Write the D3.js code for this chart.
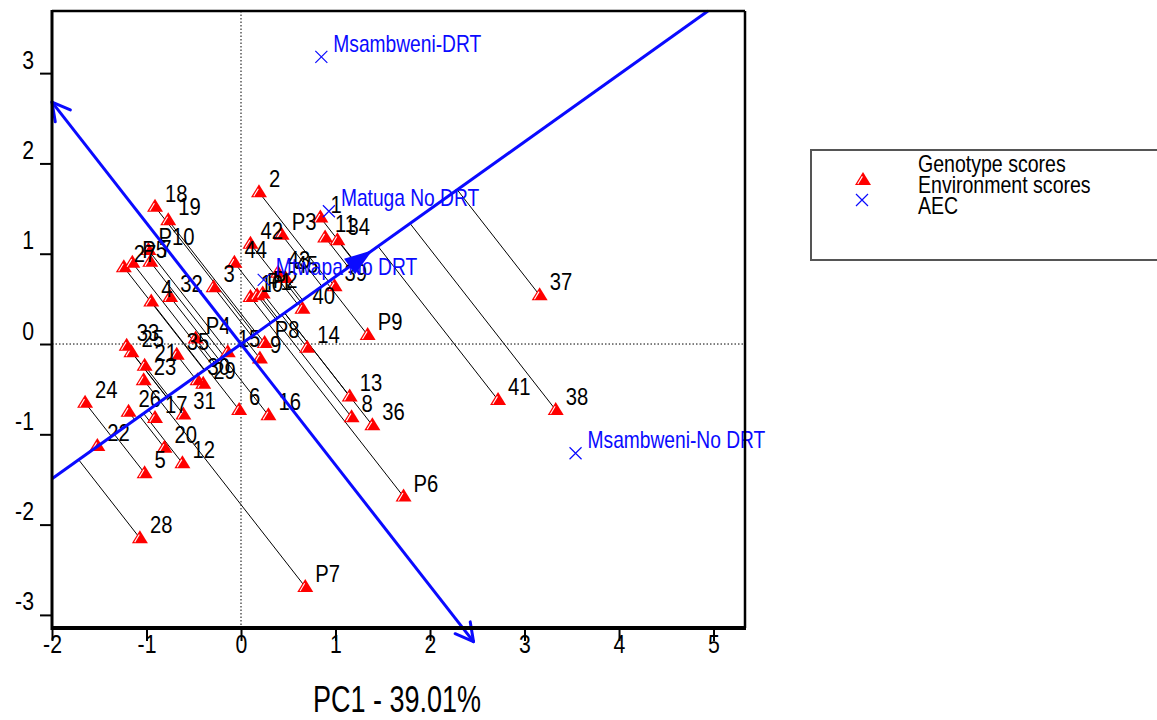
<!DOCTYPE html>
<html>
<head>
<meta charset="utf-8">
<script src="https://cdn.jsdelivr.net/npm/d3@7"></script>
<style>
  html, body { margin: 0; padding: 0; background: #fff; }
  svg { display: block; }
  text { font-family: "Liberation Sans", Arial, Helvetica, sans-serif; }
</style>
</head>
<body>
<svg id="chart" width="1157" height="720"></svg>
<script>
// ---------------- data ----------------
const genoLabels = ["1","2","3","4","5","6","7","8","9","10",
  "11","12","13","14","15","16","17","18","19","20",
  "21","22","23","24","25","26","27","28","29","30",
  "31","32","33","34","35","36","37","38","39","40",
  "41","42","43","44","45",
  "P1","P2","P3","P4","P5","P6","P7","P8","P9","P10"];
const genoX = [0.84, 0.19, -0.29, -0.95, -1.02, -0.02, -0.96, 1.17, 0.20, 0.10,
  0.89, -0.62, 1.15, 0.70, -0.14, 0.29, -0.91, -0.91, -0.77, -0.81,
  -1.02, -1.52, -1.03, -1.65, -1.16, -1.19, -1.24, -1.07, -0.40, -0.46,
  -0.61, -0.75, -1.21, 1.02, -0.68, 1.39, 3.16, 3.33, 0.99, 0.65,
  2.72, 0.10, 0.39, -0.07, 0.47,
  0.17, 0.23, 0.43, -0.48, -1.15, 1.72, 0.68, 0.25, 1.34, -0.98];
const genoY = [1.40, 1.68, 0.63, 0.47, -1.43, -0.73, 0.91, -0.81, -0.16, 0.52,
  1.18, -1.32, -0.58, -0.04, -0.09, -0.79, -0.82, 1.52, 1.37, -1.15,
  -0.24, -1.13, -0.40, -0.65, -0.09, -0.75, 0.85, -2.15, -0.44, -0.40,
  -0.78, 0.52, -0.02, 1.15, -0.12, -0.90, 0.54, -0.73, 0.64, 0.39,
  -0.62, 1.11, 0.79, 0.90, 0.73,
  0.54, 0.56, 1.21, 0.06, 0.90, -1.69, -2.69, 0.01, 0.10, 1.04];

const envLabels = ["Msambweni-DRT", "Matuga No DRT", "Mtwapa No DRT", "Msambweni-No DRT"];
const envX = [0.85, 0.93, 0.24, 3.54];
const envY = [3.18, 1.47, 0.71, -1.21];

const xTicks = [-2, -1, 0, 1, 2, 3, 4, 5];
const yTicks = [-3, -2, -1, 0, 1, 2, 3];
const xTitle = "PC1 - 39.01%";
const legendLabels = ["Genotype scores", "Environment scores", "AEC"];

// ---------------- layout ----------------
const svg = d3.select("#chart");
const L = 52, R = 745, T = 11, B = 628;
const x = d3.scaleLinear().domain([-2, 5.333]).range([L, R]);
const y = d3.scaleLinear().domain([-3.145, 3.688]).range([B, T]);
const BLUE = "#0a0aff";

function label(g, px, py, txt, size, sx, anchor, color) {
  return g.append("text")
    .attr("transform", `translate(${px},${py}) scale(${sx},1)`)
    .attr("text-anchor", anchor || "start")
    .attr("font-size", size)
    .attr("fill", color || "#000")
    .text(txt);
}

svg.append("rect").attr("width", 1157).attr("height", 720).attr("fill", "#fff");

// dotted origin lines
svg.append("line").attr("x1", x(0)).attr("x2", x(0)).attr("y1", T).attr("y2", B)
  .attr("stroke", "#000").attr("stroke-width", 1).attr("stroke-dasharray", "1.5,2");
svg.append("line").attr("x1", L).attr("x2", R).attr("y1", y(0)).attr("y2", y(0))
  .attr("stroke", "#000").attr("stroke-width", 1).attr("stroke-dasharray", "1.5,2");

// average environment coordinate
const ax = d3.mean(envX), ay = d3.mean(envY);
const an = Math.hypot(ax, ay);
const ux = ax / an, uy = ay / an;

const geno = genoLabels.map((l, i) => ({ l, x: genoX[i], y: genoY[i] }));

// projection lines onto AEC abscissa
const gLines = svg.append("g");
geno.forEach(d => {
  const t = d.x * ux + d.y * uy;
  gLines.append("line")
    .attr("x1", x(d.x)).attr("y1", y(d.y))
    .attr("x2", x(t * ux)).attr("y2", y(t * uy))
    .attr("stroke", "#000").attr("stroke-width", 1);
});

// triangles
function triangle(g, px, py) {
  const s = g.append("g").attr("transform", `translate(${px},${py})`);
  s.append("path").attr("d", "M0,-8 L8,5 L-8,5 Z").attr("fill", "#ff0000");
  s.append("path").attr("d", "M-5.2,4 L-0.6,-3.6").attr("stroke", "#fff").attr("stroke-width", 1.1);
}
const gTri = svg.append("g");
geno.forEach(d => triangle(gTri, x(d.x), y(d.y)));

const gLab = svg.append("g");
geno.forEach(d => label(gLab, x(d.x) + 10, y(d.y) - 5, d.l, 23, 0.88));

// AEC abscissa
const absX0 = -2, absY1 = y.domain()[1];
svg.append("line")
  .attr("x1", x(absX0)).attr("y1", y(absX0 * ay / ax))
  .attr("x2", x(absY1 * ax / ay)).attr("y2", y(absY1))
  .attr("stroke", BLUE).attr("stroke-width", 3);

// AEC ordinate (perpendicular through origin)
const ordX0 = -2, ordX1 = 2.46;
const o0 = [x(ordX0), y(ordX0 * (-ax / ay))];
const o1 = [x(ordX1), y(ordX1 * (-ax / ay))];
svg.append("line")
  .attr("x1", o0[0]).attr("y1", o0[1]).attr("x2", o1[0]).attr("y2", o1[1])
  .attr("stroke", BLUE).attr("stroke-width", 3);

function openArrow(tip, from) {
  const ang = Math.atan2(from[1] - tip[1], from[0] - tip[0]);
  const len = 20, spread = 0.5;
  [-spread, spread].forEach(s => {
    svg.append("line")
      .attr("x1", tip[0]).attr("y1", tip[1])
      .attr("x2", tip[0] + len * Math.cos(ang + s)).attr("y2", tip[1] + len * Math.sin(ang + s))
      .attr("stroke", BLUE).attr("stroke-width", 3).attr("stroke-linecap", "round");
  });
}
openArrow(o0, o1);
openArrow(o1, o0);

// filled arrow at the average environment
{
  const tip = [x(ax), y(ay)];
  const ang = Math.atan2(y(0) - tip[1], x(0) - tip[0]);
  const len = 28, hw = 9.5;
  const bx = tip[0] + len * Math.cos(ang), by = tip[1] + len * Math.sin(ang);
  const px = -Math.sin(ang), py = Math.cos(ang);
  svg.append("path")
    .attr("d", `M${tip[0]},${tip[1]} L${bx + hw * px},${by + hw * py} L${bx - hw * px},${by - hw * py} Z`)
    .attr("fill", BLUE);
}

// environment markers and labels
function cross(g, px, py, c) {
  const s = 6;
  g.append("path").attr("d", `M${px - s},${py - s} L${px + s},${py + s} M${px - s},${py + s} L${px + s},${py - s}`)
    .attr("stroke", c).attr("stroke-width", 1.2);
}
const gEnv = svg.append("g");
envLabels.forEach((l, i) => {
  cross(gEnv, x(envX[i]), y(envY[i]), BLUE);
  label(gEnv, x(envX[i]) + 12, y(envY[i]) - 5, l, 24, 0.8, "start", BLUE);
});

// axes
const yAxis = svg.append("g").attr("transform", `translate(${L},0)`)
  .call(d3.axisLeft(y).tickValues(yTicks).tickSize(12).tickFormat(d => String(d)));
yAxis.select(".domain").remove();
yAxis.selectAll(".tick line").attr("stroke", "#000").attr("stroke-width", 2);
yAxis.selectAll(".tick text")
  .attr("x", null).attr("dy", null)
  .attr("transform", "translate(-18,-5) scale(0.85,1)")
  .attr("text-anchor", "end").attr("font-size", 25)
  .attr("font-family", "Liberation Sans, Arial, sans-serif").attr("fill", "#000");

const xAxis = svg.append("g").attr("transform", `translate(0,${B})`)
  .call(d3.axisBottom(x).tickValues(xTicks).tickSize(13).tickFormat(d => String(d)));
xAxis.select(".domain").remove();
xAxis.selectAll(".tick line").attr("stroke", "#000").attr("stroke-width", 2);
xAxis.selectAll(".tick text")
  .attr("y", null).attr("dy", null)
  .attr("transform", "translate(0,25) scale(0.85,1)")
  .attr("text-anchor", "middle").attr("font-size", 25)
  .attr("font-family", "Liberation Sans, Arial, sans-serif").attr("fill", "#000");

// frame
svg.append("line").attr("x1", L).attr("x2", R).attr("y1", T).attr("y2", T).attr("stroke", "#000").attr("stroke-width", 2.5);
svg.append("line").attr("x1", R).attr("x2", R).attr("y1", T).attr("y2", B).attr("stroke", "#000").attr("stroke-width", 2.5);
svg.append("line").attr("x1", L).attr("x2", L).attr("y1", T - 1).attr("y2", B + 2).attr("stroke", "#000").attr("stroke-width", 3);
svg.append("line").attr("x1", L - 1).attr("x2", R + 1).attr("y1", B).attr("y2", B).attr("stroke", "#000").attr("stroke-width", 4);

// axis title
label(svg, 397, 712, xTitle, 36, 0.75, "middle");

// legend
svg.append("rect").attr("x", 811).attr("y", 150).attr("width", 400).attr("height", 110)
  .attr("fill", "none").attr("stroke", "#555").attr("stroke-width", 2);
triangle(svg, 863, 180);
cross(svg, 862, 200, BLUE);
legendLabels.forEach((l, i) => label(svg, 918, 172 + i * 21, l, 23, 0.85));
</script>
</body>
</html>
